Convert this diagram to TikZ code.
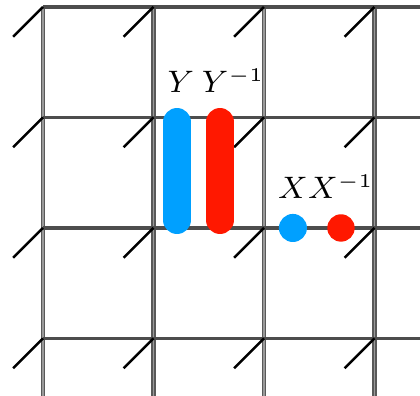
\documentclass[tikz,border=0pt]{standalone}
\definecolor{LATblue}{HTML}{00A0FF}
\definecolor{LATred}{HTML}{FF1800}
\definecolor{LATgray}{HTML}{4D4D4D}
\usepackage{tikz}
\usetikzlibrary{positioning}

\begin{document}
\begin{tikzpicture}[
   vline/.style={draw=black!65, line width=0.4pt, double=black!40, double distance=0.4pt},
   hline/.style={draw=LATgray, line width=0.8pt},
   tick/.style={black, line width=0.65pt},
   bar/.style={line width=7.2pt, line cap=round},
   lbl/.style={font=\fontsize{7.8}{9}\selectfont}
]
      \useasboundingbox (-0.389,-1.520) rectangle (3.412,2.063);
      % Lattice: vertical then horizontal lines
      \foreach \i in {0,...,3}
         \draw[vline] (\i,2) -- (\i,-1.6);
      \foreach \j in {-1,...,2}
         \draw[hline] (0,\j) -- (3.5,\j);
      % Diagonal ticks at each site
      \foreach \i in {0,...,3}
         \foreach \j in {-1,...,2}
            \draw[tick] (\i,\j) -- ++(-0.27,-0.27);
      % Bars Y and Y^{-1}
      \coordinate (Ybot) at (1.213,0.072);
      \coordinate (Ytop) at (1.213,0.959);
      \coordinate (Yinvbot) at (1.602,0.072);
      \coordinate (Yinvtop) at (1.602,0.959);
      \draw[bar, LATblue] (Ybot) -- (Ytop);
      \draw[bar, LATred] (Yinvbot) -- (Yinvtop);
      \node[lbl, above=0.145cm of Ytop, xshift=0.035cm] (Ylab) {$Y$};
      \node[lbl, above=0.145cm of Yinvtop, xshift=0.12cm] (Yinvlab) {$Y^{-1}$};
      % Dots X and X^{-1}
      \fill[LATblue] (2.262,0) circle (0.127) coordinate (X);
      \fill[LATred] (2.697,0) circle (0.124) coordinate (Xinv);
      \node[lbl, above=0.14cm of X] (Xlab) {$X$};
      \node[lbl, above=0.14cm of Xinv] (Xinvlab) {$X^{-1}$};
\end{tikzpicture}
\end{document}
